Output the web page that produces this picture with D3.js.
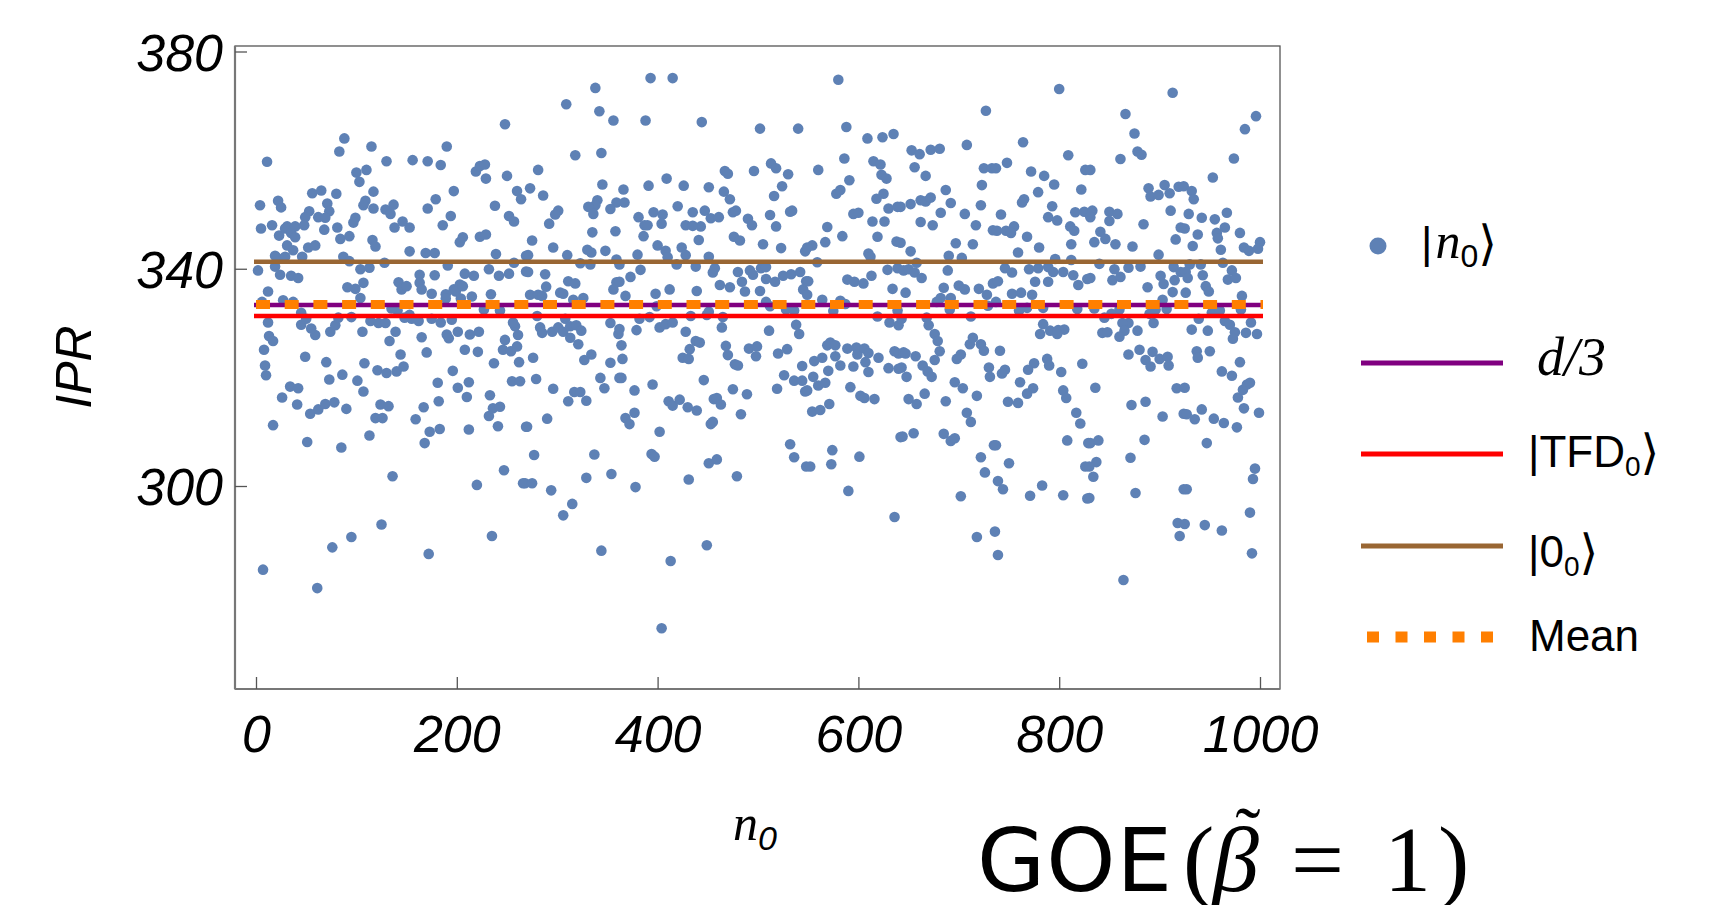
<!DOCTYPE html>
<html><head><meta charset="utf-8">
<script src="https://cdn.jsdelivr.net/npm/d3@7"></script>
<style>html,body{margin:0;padding:0;background:#fff;overflow:hidden}</style>
</head><body>
<svg id="c" width="1716" height="905"></svg>
<script>
// ---- data ----
const xTicks = [0, 200, 400, 600, 800, 1000];
const yTicks = [300, 340, 380];
// [n0, IPR]
const samples = [
[11,359.7],[4,351.7],[5,347.4],[16,348.0],[22,352.5],[25,351.3],[23,346.1],[31,347.8],[29,347.4],[35,346.6],[39,347.8],[39,345.8],[31,344.3],[37,343.4],[19,342.4],[21,342.0],[29,342.2],[46,342.2],[2,339.7],[19,340.4],[24,338.9],[35,338.7],[42,338.3],[12,335.8],[6,333.9],[27,334.2],[37,333.9],[12,330.1],[13,327.6],[17,326.7],[45,329.7],[8,325.1],[9,322.2],[10,320.4],[49,323.8],[59,327.8],[26,316.3],[34,318.3],[42,318.0],[41,315.0],[17,311.2],[51,308.1],[54,313.3],[62,314.1],[70,322.8],[73,319.6],[69,315.1],[78,315.4],[86,320.5],[90,314.2],[85,307.1],[101,319.4],[107,317.4],[108,322.6],[113,309.3],[121,321.3],[130,320.8],[140,321.1],[147,322.0],[119,312.5],[126,312.5],[124,315.0],[132,314.7],[136,301.8],[125,292.9],[95,290.6],[76,288.7],[7,284.6],[61,281.2],[172,287.5],[159,312.3],[168,307.9],[173,310.0],[183,310.5],[167,314.5],[182,315.6],[181,319.0],[196,321.2],[201,318.1],[210,316.4],[212,319.1],[212,310.4],[232,312.9],[236,314.3],[243,314.6],[233,316.7],[241,311.0],[237,322.6],[262,322.8],[255,319.3],[263,319.3],[269,310.9],[220,300.2],[247,302.9],[266,300.5],[235,290.8],[144,324.2],[133,326.7],[139,328.4],[170,324.6],[165,327.4],[190,327.9],[192,327.2],[201,328.4],[208,325.1],[213,327.9],[222,328.4],[221,324.7],[248,326.9],[246,325.1],[254,324.8],[260,325.7],[258,329.4],[256,330.1],[261,327.8],[106,328.4],[74,328.4],[79,329.6],[82,331.0],[95,331.1],[114,330.4],[122,330.0],[129,330.0],[141,332.3],[155,330.8],[162,330.4],[175,330.8],[184,330.1],[195,330.6],[175,335.4],[189,335.3],[197,336.2],[203,337.1],[208,339.1],[217,338.7],[215,334.9],[234,335.3],[227,332.5],[243,332.3],[252,339.1],[242,338.7],[232,339.9],[239,342.7],[257,341.1],[269,339.5],[269,342.4],[260,354.3],[264,352.8],[238,351.6],[252,349.7],[257,348.7],[250,357.1],[229,356.6],[219,357.9],[223,358.9],[228,359.2],[248,366.6],[190,362.5],[184,359.1],[171,359.8],[156,360.0],[130,359.8],[115,362.5],[88,364.0],[83,361.6],[110,358.2],[100,357.7],[103,356.0],[80,353.8],[56,353.9],[65,354.4],[71,352.0],[73,350.6],[53,350.6],[49,349.5],[48,348.0],[62,349.5],[69,349.4],[68,347.2],[81,347.6],[84,345.5],[93,346.0],[99,349.4],[97,348.5],[109,352.5],[107,351.7],[117,354.2],[117,351.1],[129,350.9],[134,350.1],[137,351.8],[138,347.6],[146,348.7],[153,347.6],[116,345.3],[119,344.1],[153,343.2],[169,342.9],[178,342.9],[171,351.1],[179,352.8],[186,348.0],[194,349.7],[197,354.3],[203,344.9],[206,345.8],[223,345.9],[229,346.3],[128,341.1],[87,342.2],[93,341.4],[104,339.9],[113,340.2],[142,337.5],[145,336.2],[150,336.8],[163,338.9],[163,337.4],[165,336.2],[91,336.6],[99,336.3],[104,334.6],[178,338.8],[191,340.6],[189,334.5],[199,335.8],[206,336.8],[204,334.5],[135,332.7],[148,331.0],[153,331.5],[45,331.9],[50,330.8],[55,329.0],[107,337.4],[52,343.9],[59,344.3],
[338,373.3],[309,370.3],[342,369.0],[356,367.3],[318,360.9],[344,361.3],[281,358.2],[273,354.8],[286,353.5],[345,355.5],[340,352.6],[338,351.7],[331,351.4],[359,352.2],[353,351.0],[301,350.7],[298,350.0],[292,348.3],[336,350.1],[358,346.9],[335,346.7],[275,345.2],[296,343.9],[271,342.5],[310,342.5],[330,343.5],[334,343.0],[348,343.3],[359,341.7],[323,341.0],[333,340.8],[271,339.4],[288,339.0],[311,337.7],[318,337.3],[289,336.7],[359,337.5],[356,336.2],[273,335.2],[281,335.2],[285,335.0],[303,335.6],[306,335.4],[326,334.6],[316,334.3],[280,331.3],[283,329.2],[285,328.2],[295,328.4],[301,329.2],[306,328.4],[308,330.8],[313,329.4],[319,329.6],[324,328.6],[321,326.1],[313,327.3],[334,324.2],[327,323.2],[353,330.0],[361,328.0],[353,322.7],[276,323.6],[279,319.7],[343,319.9],[347,318.0],[362,319.9],[296,317.9],[317,317.3],[323,317.3],[311,315.6],[329,315.7],[270,310.9],[290,312.4],[277,305.7],[337,305.8],[268,300.5],[275,300.5],[294,299.2],[329,301.5],[354,302.2],[315,296.7],[306,294.6],[344,288.1],
[393,375.1],[415,375.1],[388,367.3],[444,367.0],[409,356.6],[391,355.3],[426,355.3],[366,354.6],[451,355.0],[367,352.2],[381,349.5],[396,350.4],[405,350.0],[420,351.5],[435,350.4],[447,350.7],[387,348.0],[390,348.0],[404,348.3],[428,348.0],[443,347.8],[435,347.9],[453,349.3],[386,346.0],[441,345.3],[400,344.3],[408,343.3],[424,343.9],[428,342.5],[380,342.6],[410,342.1],[383,339.8],[373,338.5],[362,340.8],[362,337.6],[419,340.8],[438,340.4],[451,342.2],[455,339.3],[412,336.2],[398,335.4],[368,335.0],[439,335.9],[399,333.1],[382,330.8],[392,331.1],[379,328.7],[402,329.2],[408,329.8],[415,330.1],[433,331.3],[449,331.5],[451,332.1],[362,328.9],[364,325.9],[365,323.4],[428,328.4],[432,325.2],[425,323.6],[431,323.4],[438,326.7],[442,326.4],[364,319.9],[377,317.6],[395,318.7],[411,315.6],[415,314.8],[422,315.9],[430,314.5],[439,313.9],[446,319.5],[456,316.0],[368,312.5],[372,311.4],[377,313.5],[402,310.0],[394,305.9],[397,305.4],[453,311.4],[451,304.2],[431,301.2],[378,299.8],[449,289.1],[413,286.2],[404,273.8],
[502,365.8],[540,365.8],[467,358.0],[470,357.5],[496,358.0],[513,359.4],[518,358.5],[530,357.4],[524,355.2],[466,354.2],[472,352.8],[516,353.4],[461,349.5],[475,350.4],[478,350.7],[490,349.2],[494,348.0],[512,349.9],[518,347.8],[532,350.5],[534,350.7],[476,345.9],[482,345.2],[505,344.5],[523,343.8],[547,343.2],[457,340.1],[480,339.4],[492,339.7],[495,338.9],[503,340.1],[508,340.3],[462,337.0],[472,336.6],[484,337.6],[487,335.8],[502,335.9],[508,338.1],[517,337.6],[525,338.7],[533,339.0],[542,339.4],[545,336.2],[548,337.7],[528,332.5],[536,332.3],[512,333.1],[508,333.9],[465,331.1],[464,329.2],[511,328.6],[538,329.7],[541,328.0],[468,325.8],[470,324.1],[491,325.3],[499,325.7],[498,323.9],[520,324.4],[529,325.2],[477,322.4],[480,322.2],[526,320.4],[536,319.4],[544,322.1],[544,319.4],[547,317.4],[475,317.8],[489,316.9],[519,317.9],[459,316.2],[463,315.0],[483,313.2],[455,311.8],[532,307.7],[536,305.3],[459,304.9],[479,301.8],[548,303.6],
[580,374.8],[588,366.1],[609,364.0],[624,364.2],[635,364.8],[560,358.2],[586,360.3],[591,356.3],[615,359.8],[622,359.2],[623,357.3],[628,356.6],[578,353.8],[582,354.5],[625,353.8],[618,352.9],[630,351.1],[639,351.4],[595,350.1],[600,350.3],[614,348.7],[626,348.7],[569,347.7],[584,346.0],[619,345.9],[638,345.0],[567,344.9],[554,344.3],[549,343.9],[610,342.8],[612,342.2],[559,341.2],[629,339.8],[639,340.1],[550,337.7],[589,338.0],[596,337.6],[605,337.3],[613,338.7],[634,336.3],[549,335.2],[564,334.3],[582,334.1],[575,332.2],[587,333.5],[619,331.2],[631,330.1],[639,332.3],[640,329.6],[569,325.9],[572,326.4],[577,325.9],[589,325.3],[598,325.5],[599,324.2],[606,325.3],[610,324.5],[620,323.6],[636,324.8],[640,324.4],[556,323.0],[564,323.6],[577,323.9],[582,322.2],[595,322.0],[607,322.8],[610,321.0],[630,321.7],[640,321.6],[549,317.6],[555,320.1],[560,318.5],[567,319.0],[570,321.2],[592,318.2],[602,316.6],[606,316.2],[616,316.0],[554,313.7],[562,314.0],[571,315.1],[642,309.0],[574,306.6],[573,304.0],[552,303.6],[601,305.4],[590,299.1],[636,294.3],
[727,369.1],[653,361.8],[661,361.1],[672,361.9],[681,362.1],[708,362.8],[656,358.7],[667,357.1],[725,358.5],[733,358.5],[723,355.4],[687,354.5],[642,351.4],[652,351.9],[662,352.6],[667,352.4],[672,353.1],[692,352.1],[682,350.3],[706,350.1],[722,351.7],[662,348.6],[674,348.0],[717,348.0],[734,347.1],[697,344.7],[714,344.5],[642,344.8],[652,343.2],[690,342.4],[703,342.0],[689,339.7],[645,339.7],[650,339.9],[656,339.3],[663,338.3],[658,341.1],[685,336.5],[700,336.9],[706,336.2],[720,336.3],[728,335.2],[734,337.3],[647,335.6],[682,334.6],[692,334.6],[678,333.9],[691,332.5],[712,331.2],[729,333.2],[643,330.8],[668,331.0],[670,329.6],[676,328.0],[679,326.7],[681,324.8],[711,326.1],[714,327.3],[722,326.1],[725,324.9],[645,324.6],[647,324.4],[657,323.9],[664,322.2],[676,323.2],[698,323.4],[702,324.2],[643,321.8],[669,321.1],[673,320.1],[648,320.1],[730,321.8],[731,320.1],[696,319.1],[704,318.0],[718,316.6],[666,317.0],[650,316.0],[658,315.1],[687,315.6],[708,313.5],[712,311.8],[644,309.1],[655,309.7],[685,309.6],[692,308.3],[696,308.8],[735,307.5],[722,305.3],[726,302.5],[702,298.1],[718,290.6],[736,291.6],
[800,373.1],[764,363.3],[809,360.9],[748,359.5],[772,357.9],[785,357.1],[795,355.5],[826,358.2],[737,358.5],[822,354.6],[779,354.1],[765,352.8],[763,352.2],[793,351.5],[742,350.0],[789,349.5],[798,348.9],[816,350.4],[825,350.5],[811,347.8],[815,347.0],[738,347.0],[747,347.0],[755,347.8],[752,346.6],[768,345.9],[812,344.5],[780,343.9],[759,343.0],[796,341.8],[812,341.6],[746,340.1],[753,339.3],[770,339.9],[779,340.1],[789,340.3],[794,339.4],[804,339.4],[814,338.8],[739,337.7],[776,337.6],[789,337.6],[819,337.0],[828,338.1],[753,335.4],[762,335.6],[773,335.2],[737,333.9],[760,332.3],[768,332.8],[784,332.8],[818,332.6],[805,328.8],[784,329.8],[781,328.0],[791,328.6],[799,328.7],[798,328.0],[741,324.9],[788,323.4],[790,322.2],[775,322.6],[769,321.4],[746,321.4],[743,320.7],[802,321.0],[823,322.5],[761,319.1],[768,317.0],[774,318.0],[804,317.6],[807,316.2],[749,315.5],[759,315.3],[817,313.5],[821,311.5],[737,307.5],[808,308.4],[829,307.9],[750,304.2],[826,303.6],[739,300.9],[744,299.4],[771,298.2],[783,300.1],[804,298.3],[828,297.7],[739,287.3],
[913,372.4],[866,368.5],[875,364.9],[878,361.6],[882,361.0],[861,360.2],[831,358.2],[889,354.8],[891,353.3],[899,353.6],[905,355.4],[910,353.9],[919,355.1],[833,350.7],[831,349.5],[850,350.5],[858,350.1],[850,348.8],[911,350.7],[884,348.2],[921,347.6],[841,346.8],[846,345.5],[835,344.9],[856,344.5],[873,344.1],[916,345.4],[899,342.6],[840,340.9],[855,339.9],[869,340.2],[881,340.4],[914,340.3],[921,339.4],[831,338.3],[853,337.9],[861,338.5],[901,338.7],[904,337.2],[915,337.9],[888,336.6],[913,335.7],[903,334.3],[835,332.7],[860,332.5],[896,332.5],[907,332.6],[845,331.0],[852,331.7],[869,330.0],[890,331.7],[894,330.0],[843,328.2],[848,328.3],[863,330.0],[865,328.6],[860,327.5],[869,324.2],[878,328.6],[880,325.1],[886,323.2],[891,322.0],[893,324.7],[900,323.4],[908,323.8],[909,322.2],[836,318.1],[872,314.9],[886,315.5],[917,318.0],[903,312.8],[924,313.3],[831,307.9],[839,308.4],[885,308.5],[871,305.2],[837,304.4],[830,303.6],[834,301.7],[830,297.8],[876,298.7],[918,293.2],[920,290.8],[924,299.4],[864,282.7],
[996,368.1],[985,365.7],[974,360.3],[953,356.8],[924,355.2],[932,354.3],[934,352.8],[929,350.1],[942,349.4],[955,349.1],[967,350.3],[925,347.4],[938,346.3],[957,346.6],[958,345.6],[965,347.6],[980,346.6],[933,344.2],[961,343.5],[984,343.9],[989,343.3],[1000,344.9],[998,343.7],[930,340.8],[941,340.8],[963,341.1],[926,339.4],[928,338.3],[943,338.8],[972,339.7],[968,338.0],[976,338.3],[926,335.6],[946,336.8],[949,335.8],[982,335.0],[957,332.3],[939,330.8],[952,331.9],[960,332.3],[981,332.5],[932,328.8],[948,328.6],[965,330.4],[970,329.7],[975,328.3],[973,327.1],[986,328.2],[991,330.1],[997,328.0],[937,324.8],[938,323.6],[950,324.8],[962,321.1],[972,320.3],[980,322.8],[925,318.1],[978,316.3],[983,317.7],[987,318.7],[990,319.0],[927,313.2],[935,312.3],[942,314.1],[954,312.4],[964,311.6],[977,310.8],[984,314.3],[999,313.5],[947,307.9],[995,303.2],[993,301.3],[927,299.4],[925,293.0],[945,292.8],[962,291.8],[990,295.1],[992,287.6]
];
const lineNames = ["d/3", "TFD", "zero", "Mean"];
const lineValues = [333.33, 331.3, 341.3, 333.4];
const lineColors = ["#800080", "#ff0000", "#996633", "#ff7f00"];
const lineX = [0, 1000];

// ---- chart ----
const svg = d3.select("#c");
const x = d3.scaleLinear().domain([0, 1000]).range([256, 1260]);
const y = d3.scaleLinear().domain([300, 380]).range([486, 51.5]);
const frame = {l: 235, r: 1280, t: 46, b: 689};

// points
svg.append("g").selectAll("circle").data(samples).join("circle")
  .attr("cx", d => x(d[0])).attr("cy", d => y(d[1])).attr("r", 5.3)
  .attr("fill", "#5e81b5");

// reference lines (solid ones first)
const solidOrder = [2, 1, 0];
solidOrder.forEach(i => {
  svg.append("line").attr("x1", x(lineX[0]) - 2).attr("x2", x(lineX[1]) + 3)
    .attr("y1", y(lineValues[i])).attr("y2", y(lineValues[i]))
    .attr("stroke", lineColors[i]).attr("stroke-width", 4.5);
});
svg.append("line").attr("x1", x(lineX[0])).attr("x2", x(lineX[1]) + 3)
  .attr("y1", y(lineValues[3])).attr("y2", y(lineValues[3]))
  .attr("stroke", lineColors[3]).attr("stroke-width", 9)
  .attr("stroke-dasharray", "14 14.7");

// frame
svg.append("rect").attr("x", frame.l).attr("y", frame.t)
  .attr("width", frame.r - frame.l).attr("height", frame.b - frame.t)
  .attr("fill", "none").attr("stroke", "#555").attr("stroke-width", 1.3);
svg.append("line").attr("x1", frame.l).attr("x2", frame.l).attr("y1", frame.t).attr("y2", frame.b)
  .attr("stroke", "#777").attr("stroke-width", 2.2);
svg.append("line").attr("x1", frame.l).attr("x2", frame.r).attr("y1", frame.b).attr("y2", frame.b)
  .attr("stroke", "#777").attr("stroke-width", 2.2);

// axes
const tickFont = "italic 52px 'Liberation Sans', Arial, sans-serif";
const gx = svg.append("g").attr("transform", `translate(0,${frame.b})`)
  .call(d3.axisBottom(x).tickValues(xTicks).tickSize(-12).tickFormat(d3.format("d")));
gx.select(".domain").remove();
gx.selectAll("line").attr("stroke", "#555").attr("stroke-width", 1.3);
gx.selectAll("text").attr("y", 63).attr("dy", 0).style("font", tickFont).attr("fill", "#000");

const gy = svg.append("g").attr("transform", `translate(${frame.l},0)`)
  .call(d3.axisLeft(y).tickValues(yTicks).tickSize(-12).tickFormat(d3.format("d")));
gy.select(".domain").remove();
gy.selectAll("line").attr("stroke", "#555").attr("stroke-width", 1.3);
gy.selectAll("text").attr("x", -12).attr("dy", "0.36em").style("font", tickFont).attr("fill", "#000");

// axis titles
svg.append("text").attr("transform", "translate(91,367) rotate(-90)")
  .attr("text-anchor", "middle")
  .style("font", "italic 50px 'Liberation Sans', Arial, sans-serif").text("IPR");

const xt = svg.append("text").attr("x", 733).attr("y", 840);
xt.append("tspan").style("font", "italic 50px 'Liberation Serif', serif").text("n");
xt.append("tspan").attr("dy", 10).style("font", "italic 34px 'Liberation Sans', sans-serif").text("0");

// title
const tt = svg.append("text").attr("y", 891);
tt.append("tspan").attr("x", 977).style("font", "88px 'DejaVu Sans', sans-serif")
  .style("letter-spacing", "1px").text("GOE");
tt.append("tspan").attr("x", 1183).style("font", "94px 'Liberation Serif', serif").text("(");
tt.append("tspan").attr("x", 1212).style("font", "italic 94px 'Liberation Serif', serif").text("β");
tt.append("tspan").attr("x", 1291).style("font", "94px 'Liberation Serif', serif").text("=");
tt.append("tspan").attr("x", 1384).style("font", "94px 'Liberation Serif', serif").text("1");
tt.append("tspan").attr("x", 1438).style("font", "94px 'Liberation Serif', serif").text(")");
svg.append("text").attr("x", 1248).attr("y", 860).attr("text-anchor", "middle")
  .style("font", "76px 'Liberation Serif', serif").text("˜");

// legend
const legendFont = "44px 'Liberation Sans', Arial, sans-serif";
const subFont = "28px 'Liberation Sans', Arial, sans-serif";
const angFont = "48px 'DejaVu Sans', sans-serif";
svg.append("circle").attr("cx", 1378).attr("cy", 246).attr("r", 8.5).attr("fill", "#5e81b5");
const l0 = svg.append("text").attr("x", 1421).attr("y", 258);
l0.append("tspan").style("font", legendFont).text("|");
l0.append("tspan").attr("dx", 3).style("font", "italic 50px 'Liberation Serif', serif").text("n");
l0.append("tspan").attr("dy", 9).style("font", "32px 'Liberation Sans', sans-serif").text("0");
l0.append("tspan").attr("dy", -7).style("font", angFont).text("⟩");

const legendRows = [
  {i: 0, ly: 363}, {i: 1, ly: 454}, {i: 2, ly: 546}, {i: 3, ly: 637}
];
legendRows.forEach(r => {
  const ln = svg.append("line").attr("x1", 1361).attr("x2", 1503)
    .attr("y1", r.ly).attr("y2", r.ly).attr("stroke", lineColors[r.i]);
  if (r.i === 3) ln.attr("x1", 1367).attr("x2", 1500).attr("stroke-width", 11).attr("stroke-dasharray", "12 16.5");
  else ln.attr("stroke-width", 4.8);
});
svg.append("text").attr("x", 1537).attr("y", 375)
  .style("font", "italic 54px 'Liberation Serif', serif").text("d/3");
const l1 = svg.append("text").attr("x", 1528).attr("y", 467);
l1.append("tspan").style("font", legendFont).text("|TFD");
l1.append("tspan").attr("dy", 9).style("font", subFont).text("0");
l1.append("tspan").attr("dy", -7).style("font", angFont).text("⟩");
const l2 = svg.append("text").attr("x", 1528).attr("y", 567);
l2.append("tspan").style("font", legendFont).text("|0");
l2.append("tspan").attr("dy", 9).style("font", subFont).text("0");
l2.append("tspan").attr("dy", -7).style("font", angFont).text("⟩");
svg.append("text").attr("x", 1529).attr("y", 651).style("font", legendFont).text("Mean");
</script>
</body></html>
